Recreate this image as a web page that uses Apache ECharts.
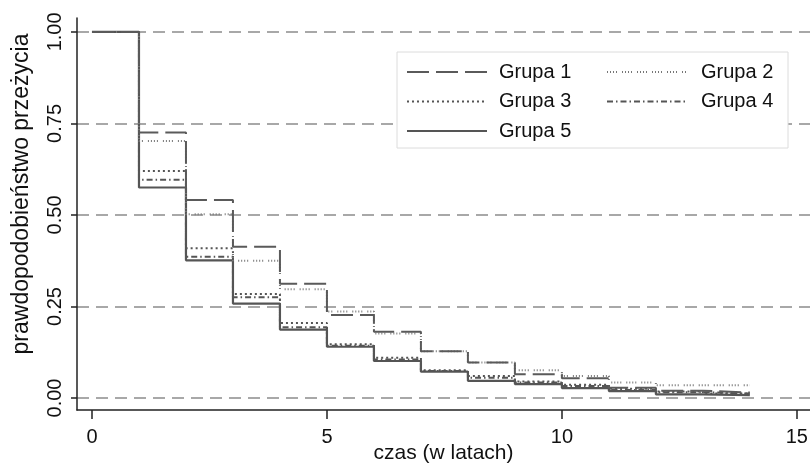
<!DOCTYPE html>
<html>
<head>
<meta charset="utf-8">
<script src="https://cdn.jsdelivr.net/npm/echarts@6/dist/echarts.min.js"></script>
<style>html,body{margin:0;padding:0;background:#fff}#c{width:810px;height:464px}</style>
</head>
<body>
<div id="c"></div>
<script>
// time points (years) at which each step starts; last point closes the final step
const times = [0,1,2,3,4,5,6,7,8,9,10,11,12,13,14];
const grupa1 = [1.0,0.725,0.541,0.413,0.312,0.227,0.181,0.128,0.097,0.065,0.054,0.028,0.020,0.015,0.015];
const grupa2 = [1.0,0.702,0.502,0.375,0.297,0.236,0.176,0.128,0.097,0.076,0.060,0.042,0.035,0.035,0.035];
const grupa3 = [1.0,0.620,0.409,0.284,0.205,0.147,0.110,0.076,0.060,0.045,0.036,0.025,0.018,0.012,0.012];
const grupa4 = [1.0,0.596,0.386,0.275,0.193,0.143,0.105,0.074,0.055,0.042,0.033,0.022,0.016,0.012,0.012];
const grupa5 = [1.0,0.575,0.376,0.258,0.187,0.140,0.101,0.072,0.047,0.038,0.027,0.019,0.010,0.008,0.008];
const groupNames = ['Grupa 1','Grupa 2','Grupa 3','Grupa 4','Grupa 5'];
const yTicks = [0,0.25,0.5,0.75,1];
const xTicks = [0,5,10,15];

const styles = [
  {type:[22,7], width:2, color:'#5a5a5a'},
  {type:[1,2,1,2,1,2,1,5], width:2, color:'#777'},
  {type:[2,3], width:2, color:'#555'},
  {type:[6,3,1.5,3], width:2, color:'#555'},
  {type:'solid', width:2.2, color:'#555'}
];
const allVals = [grupa1,grupa2,grupa3,grupa4,grupa5];

const series = allVals.map((vals,i)=>({
  name: groupNames[i], type:'line', step:'end', symbol:'none',
  xAxisIndex:0, yAxisIndex:0, z: 2 + (4-i)*0.1,
  lineStyle: styles[i], itemStyle:{color: styles[i].color},
  data: times.map((t,k)=>[t, vals[k]])
}));

const chart = echarts.init(document.getElementById('c'));
chart.setOption({
  animation:false,
  backgroundColor:'#fff',
  textStyle:{fontFamily:'Liberation Sans, Arial, sans-serif'},
  grid:[
    {left:77, right:0, top:18, bottom:54, containLabel:false, outerBoundsMode:'none'},
    {left:77, right:0, top:32, bottom:66, containLabel:false, outerBoundsMode:'none'}
  ],
  xAxis:[
    {type:'value', gridIndex:0, min:-0.319, max:15.28,
     axisLine:{show:true, onZero:false, lineStyle:{color:'#222', width:1.5}},
     axisTick:{show:true, customValues:xTicks, length:9, lineStyle:{color:'#222', width:1.5}},
     axisLabel:{customValues:xTicks, color:'#111', fontSize:20, margin:17},
     splitLine:{show:false},
     name:'czas (w latach)', nameLocation:'middle', nameGap:33, nameMoveOverlap:false,
     nameTextStyle:{fontSize:21, color:'#111'}},
    {type:'value', gridIndex:1, min:-0.319, max:15.28, show:false}
  ],
  yAxis:[
    {type:'value', gridIndex:0, min:-0.0328, max:1.038,
     axisLine:{show:true, onZero:false, lineStyle:{color:'#222', width:1.5}},
     axisTick:{show:true, customValues:yTicks, length:6, lineStyle:{color:'#222', width:1.5}},
     axisLabel:{customValues:yTicks, rotate:90, color:'#111', fontSize:20,
       fontFamily:'Liberation Sans Narrow, Liberation Sans, Arial',
       formatter:v=>v.toFixed(2), margin:12},
     splitLine:{show:false},
     name:'prawdopodobieństwo przeżycia', nameLocation:'middle', nameRotate:90, nameGap:44,
     nameMoveOverlap:false,
     nameTextStyle:{fontSize:23, color:'#111', padding:[0,0,0,40]}},
    {type:'value', gridIndex:1, min:0, max:1, interval:0.25,
     axisLine:{show:false}, axisTick:{show:false}, axisLabel:{show:false},
     splitLine:{show:true, lineStyle:{color:'#8c8c8c', width:1.5, type:[12,7]}}}
  ],
  graphic:[
    {type:'rect', z:3, shape:{x:397, y:52, width:391, height:96},
     style:{fill:'#fff', stroke:'#dcdcdc', lineWidth:1}}
  ],
  legend:[
    {data:['Grupa 1','Grupa 3','Grupa 5'], orient:'vertical', left:406, top:62, z:5,
     padding:0, itemWidth:80, itemHeight:14, itemGap:9.5,
     itemStyle:{opacity:0},
     textStyle:{fontSize:20, color:'#111', lineHeight:20, padding:[0,0,0,7]}},
    {data:['Grupa 2','Grupa 4'], orient:'vertical', left:606, top:62, z:5,
     padding:0, itemWidth:80, itemHeight:14, itemGap:9.5,
     itemStyle:{opacity:0},
     textStyle:{fontSize:20, color:'#111', lineHeight:20, padding:[0,0,0,9]}}
  ],
  series: series
});
</script>
</body>
</html>
